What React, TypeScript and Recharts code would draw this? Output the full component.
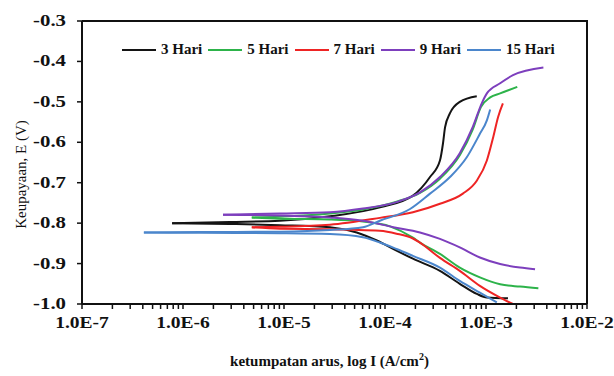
import React from "react";
import {
  LineChart,
  Line,
  XAxis,
  YAxis,
  Legend,
} from "recharts";

// Tafel polarisation curves, potential (V) vs current density (A/cm2)
// each series runs cathodic end -> corrosion point -> anodic end
const HARI_3 = [
  { i: 1.65e-3, e: -0.986 }, { i: 1.02e-3, e: -0.984 }, { i: 8.1e-4, e: -0.975 },
  { i: 5.5e-4, e: -0.95 }, { i: 3.5e-4, e: -0.918 }, { i: 1.89e-4, e: -0.888 },
  { i: 1.3e-4, e: -0.868 }, { i: 8.3e-5, e: -0.843 }, { i: 5.25e-5, e: -0.823 },
  { i: 2.85e-5, e: -0.81 }, { i: 9.1e-6, e: -0.805 }, { i: 2.9e-6, e: -0.802 },
  { i: 7.8e-7, e: -0.8 },
  { i: 2.9e-6, e: -0.797 }, { i: 9.1e-6, e: -0.794 }, { i: 2.85e-5, e: -0.783 },
  { i: 8.9e-5, e: -0.761 }, { i: 1.89e-4, e: -0.732 }, { i: 2.79e-4, e: -0.686 },
  { i: 3.5e-4, e: -0.645 }, { i: 3.75e-4, e: -0.603 }, { i: 3.93e-4, e: -0.563 },
  { i: 4.4e-4, e: -0.528 }, { i: 5.5e-4, e: -0.5 }, { i: 8.1e-4, e: -0.486 },
];

const HARI_5 = [
  { i: 3.3e-3, e: -0.961 }, { i: 2.17e-3, e: -0.957 }, { i: 1.38e-3, e: -0.951 },
  { i: 8.7e-4, e: -0.934 }, { i: 5.5e-4, e: -0.91 }, { i: 3.5e-4, e: -0.876 },
  { i: 2.22e-4, e: -0.848 }, { i: 1.89e-4, e: -0.836 }, { i: 1.12e-4, e: -0.808 },
  { i: 6.05e-5, e: -0.796 }, { i: 2.85e-5, e: -0.791 }, { i: 9.1e-6, e: -0.789 },
  { i: 4.8e-6, e: -0.786 },
  { i: 9.1e-6, e: -0.784 }, { i: 2.85e-5, e: -0.776 }, { i: 6.05e-5, e: -0.766 },
  { i: 1.3e-4, e: -0.747 }, { i: 2.22e-4, e: -0.725 }, { i: 3.5e-4, e: -0.69 },
  { i: 5.5e-4, e: -0.632 }, { i: 7.4e-4, e: -0.568 }, { i: 8.9e-4, e: -0.513 },
  { i: 1.1e-3, e: -0.489 }, { i: 1.38e-3, e: -0.479 }, { i: 2.04e-3, e: -0.463 },
];

const HARI_7 = [
  { i: 1.85e-3, e: -1.0 }, { i: 1.38e-3, e: -0.984 }, { i: 8.7e-4, e: -0.955 },
  { i: 5.5e-4, e: -0.918 }, { i: 3.5e-4, e: -0.886 }, { i: 2.22e-4, e: -0.848 },
  { i: 1.89e-4, e: -0.838 }, { i: 1.3e-4, e: -0.826 }, { i: 8.9e-5, e: -0.819 },
  { i: 2.85e-5, e: -0.815 }, { i: 9.1e-6, e: -0.814 },
  { i: 4.8e-6, e: -0.81 },
  { i: 9.1e-6, e: -0.809 }, { i: 2.85e-5, e: -0.804 }, { i: 8.9e-5, e: -0.787 },
  { i: 1.89e-4, e: -0.773 }, { i: 3.5e-4, e: -0.752 }, { i: 5.9e-4, e: -0.727 },
  { i: 8.1e-4, e: -0.695 }, { i: 1.02e-3, e: -0.645 }, { i: 1.18e-3, e: -0.587 },
  { i: 1.32e-3, e: -0.537 }, { i: 1.47e-3, e: -0.504 },
];

const HARI_9 = [
  { i: 3.06e-3, e: -0.914 }, { i: 2.17e-3, e: -0.91 }, { i: 1.38e-3, e: -0.901 },
  { i: 8.7e-4, e: -0.885 }, { i: 5.5e-4, e: -0.86 }, { i: 3.5e-4, e: -0.839 },
  { i: 2.22e-4, e: -0.823 }, { i: 1.21e-4, e: -0.81 }, { i: 6.05e-5, e: -0.794 },
  { i: 2.85e-5, e: -0.786 }, { i: 9.1e-6, e: -0.781 },
  { i: 2.49e-6, e: -0.779 },
  { i: 9.1e-6, e: -0.776 }, { i: 2.85e-5, e: -0.773 }, { i: 6.05e-5, e: -0.764 },
  { i: 1.3e-4, e: -0.748 }, { i: 2.22e-4, e: -0.724 }, { i: 3.5e-4, e: -0.686 },
  { i: 5.5e-4, e: -0.627 }, { i: 7.4e-4, e: -0.562 }, { i: 9.1e-4, e: -0.503 },
  { i: 1.02e-3, e: -0.479 }, { i: 1.38e-3, e: -0.454 }, { i: 1.85e-3, e: -0.434 },
  { i: 3.7e-3, e: -0.415 },
];

const HARI_15 = [
  { i: 1.28e-3, e: -0.996 }, { i: 8.7e-4, e: -0.972 }, { i: 5.5e-4, e: -0.943 },
  { i: 3.5e-4, e: -0.91 }, { i: 1.89e-4, e: -0.881 }, { i: 1.3e-4, e: -0.864 },
  { i: 8.9e-5, e: -0.848 }, { i: 6.05e-5, e: -0.835 }, { i: 2.85e-5, e: -0.827 },
  { i: 9.1e-6, e: -0.825 }, { i: 1.47e-6, e: -0.824 },
  { i: 4.1e-7, e: -0.823 },
  { i: 1.47e-6, e: -0.822 }, { i: 9.1e-6, e: -0.821 }, { i: 2.85e-5, e: -0.817 },
  { i: 6.05e-5, e: -0.81 }, { i: 8.9e-5, e: -0.794 }, { i: 1.77e-4, e: -0.765 },
  { i: 2.79e-4, e: -0.727 }, { i: 4.4e-4, e: -0.686 }, { i: 6.45e-4, e: -0.637 },
  { i: 8.7e-4, e: -0.579 }, { i: 1.02e-3, e: -0.546 }, { i: 1.1e-3, e: -0.519 },
];

const SERIES = [
  { name: "3 Hari", data: HARI_3, color: "#141414" },
  { name: "5 Hari", data: HARI_5, color: "#2db34a" },
  { name: "7 Hari", data: HARI_7, color: "#ee2424" },
  { name: "9 Hari", data: HARI_9, color: "#7d3fbd" },
  { name: "15 Hari", data: HARI_15, color: "#4b86cc" },
];

const X_MAJOR = [1e-7, 1e-6, 1e-5, 1e-4, 1e-3, 1e-2];
const Y_TICKS = [-1.0, -0.9, -0.8, -0.7, -0.6, -0.5, -0.4, -0.3];

// log minor ticks 2..9 inside each decade
const X_TICKS: number[] = [];
X_MAJOR.forEach((d, k) => {
  X_TICKS.push(d);
  if (k < X_MAJOR.length - 1) for (let m = 2; m <= 9; m++) X_TICKS.push(d * m);
});

// split a scan at its corrosion point so both branches run left -> right
function branches(data: { i: number; e: number }[]) {
  let tip = 0;
  data.forEach((p, k) => {
    if (p.i < data[tip].i) tip = k;
  });
  return [data.slice(0, tip + 1).reverse(), data.slice(tip)];
}

const W = 614;
const H = 376;
const MARGIN = { top: 21, right: 27, left: 0, bottom: 0 };
const Y_AXIS_W = 82;
const X_AXIS_H = 72;

const SERIF = "Liberation Serif";
const AXIS = "#111";

const isMajor = (v: number) => {
  const l = Math.log10(v);
  return Math.abs(l - Math.round(l)) < 1e-6;
};

const XTick = ({ x, y, payload }: any) => {
  if (!isMajor(payload.value)) return null;
  return (
    <g transform={`translate(${x},${y})`}>
      <text
        transform="scale(1.22,1)"
        y={17}
        textAnchor="middle"
        style={{ fontFamily: SERIF, fontWeight: 700, fontSize: 16 }}
        fill="#111"
      >
        {Number(payload.value).toExponential(1).toUpperCase()}
      </text>
    </g>
  );
};

const YTick = ({ x, y, payload }: any) => (
  <g transform={`translate(${x},${y})`}>
    <text
      transform="scale(1.3,1)"
      dy={5}
      textAnchor="end"
      style={{ fontFamily: SERIF, fontWeight: 700, fontSize: 16 }}
      fill="#111"
    >
      {Number(payload.value).toFixed(1)}
    </text>
  </g>
);

// keeps the series order of the original (3, 5, 7, 9, 15 Hari)
const LegendContent = () => (
  <div
    style={{
      display: "flex",
      alignItems: "center",
      fontFamily: SERIF,
      fontWeight: 700,
      fontSize: 15,
      color: "#111",
      whiteSpace: "nowrap",
    }}
  >
    {SERIES.map((s) => (
      <div key={s.name} style={{ display: "flex", alignItems: "center", marginRight: 6 }}>
        <svg width={34} height={4}>
          <line x1={0} y1={2} x2={34} y2={2} stroke={s.color} strokeWidth={2} />
        </svg>
        <span style={{ marginLeft: 5 }}>{s.name}</span>
      </div>
    ))}
  </div>
);

const plotL = MARGIN.left + Y_AXIS_W;
const plotT = MARGIN.top;
const plotR = W - MARGIN.right;
const plotB = H - MARGIN.bottom - X_AXIS_H;

export default function App() {
  return (
    <div style={{ position: "absolute", left: 0, top: 0, width: W, height: H, background: "#fff" }}>
      <LineChart width={W} height={H} margin={MARGIN}>
        <XAxis
          dataKey="i"
          type="number"
          scale="log"
          domain={[1e-7, 1e-2]}
          allowDataOverflow
          ticks={X_TICKS}
          interval={0}
          height={X_AXIS_H}
          tick={<XTick />}
          tickSize={5}
          tickLine={{ stroke: AXIS, strokeWidth: 1.5 }}
          axisLine={{ stroke: AXIS, strokeWidth: 2 }}
          label={({ viewBox }: any) => (
            <text
              x={viewBox.x + viewBox.width / 2 - 5}
              y={viewBox.y + 62}
              textAnchor="middle"
              style={{ fontFamily: SERIF, fontWeight: 700, fontSize: 15 }}
              fill="#111"
            >
              ketumpatan arus, log I (A/cm
              <tspan dy={-6} fontSize={10}>2</tspan>
              <tspan dy={6}>)</tspan>
            </text>
          )}
        />
        <YAxis
          type="number"
          domain={[-1.0, -0.3]}
          allowDataOverflow
          ticks={Y_TICKS}
          interval={0}
          width={Y_AXIS_W}
          tick={<YTick />}
          tickSize={5}
          tickMargin={11}
          tickLine={{ stroke: AXIS, strokeWidth: 1.5 }}
          axisLine={{ stroke: AXIS, strokeWidth: 2 }}
          label={({ viewBox }: any) => {
            const cy = viewBox.y + viewBox.height / 2 + 12;
            return (
              <text
                x={26}
                y={cy}
                transform={`rotate(-90, 26, ${cy})`}
                textAnchor="middle"
                style={{ fontFamily: SERIF, fontSize: 15 }}
                fill="#111"
              >
                Keupayaan, E (V)
              </text>
            );
          }}
        />
        <Legend
          content={<LegendContent />}
          layout="horizontal"
          align="center"
          verticalAlign="middle"
          wrapperStyle={{ top: 41, left: 122, width: "auto" }}
        />
        {SERIES.flatMap((s) =>
          branches(s.data).map((b, k) => (
            <Line
              key={`${s.name}-${k}`}
              name={s.name}
              data={b}
              dataKey="e"
              type="monotone"
              stroke={s.color}
              strokeWidth={2}
              dot={false}
              activeDot={false}
              legendType="none"
              isAnimationActive={false}
            />
          ))
        )}
      </LineChart>
      {/* top and right edges of the plot frame */}
      <svg
        width={W}
        height={H}
        style={{ position: "absolute", left: 0, top: 0, pointerEvents: "none" }}
      >
        <polyline
          points={`${plotL},${plotT} ${plotR},${plotT} ${plotR},${plotB}`}
          fill="none"
          stroke={AXIS}
          strokeWidth={2}
        />
      </svg>
    </div>
  );
}
